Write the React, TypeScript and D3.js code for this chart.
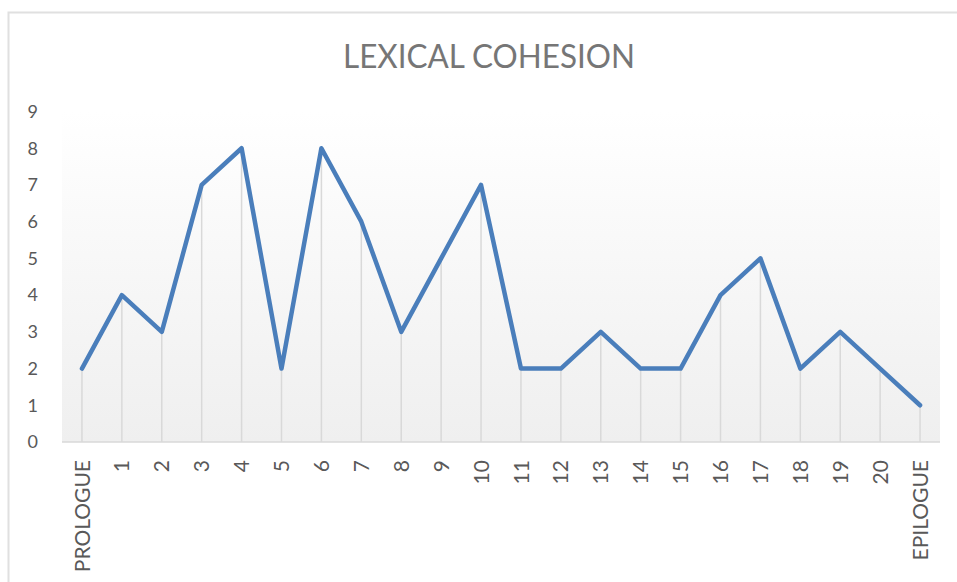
import * as d3 from 'd3';
import { useRef, useEffect } from 'react';

// --- data ---
const chapters = [
  'PROLOGUE', '1', '2', '3', '4', '5', '6', '7', '8', '9', '10',
  '11', '12', '13', '14', '15', '16', '17', '18', '19', '20', 'EPILOGUE',
];
const cohesion = [2, 4, 3, 7, 8, 2, 8, 6, 3, 5, 7, 2, 2, 3, 2, 2, 4, 5, 2, 3, 2, 1];
const yTicks = [0, 1, 2, 3, 4, 5, 6, 7, 8, 9];
const chartTitle = 'LEXICAL COHESION';

export default function App() {
  const ref = useRef<SVGSVGElement>(null);

  useEffect(() => {
    const width = 957;
    const height = 582;
    const plot = { left: 62, right: 940, top: 111.5, bottom: 442 };
    const font = "Lato, 'Open Sans', sans-serif";

    const x = d3.scalePoint<string>()
      .domain(chapters)
      .range([plot.left, plot.right])
      .padding(0.5);

    const y = d3.scaleLinear()
      .domain([0, 9])
      .range([plot.bottom, plot.top]);

    const svg = d3.select(ref.current)
      .attr('width', width)
      .attr('height', height)
      .attr('viewBox', `0 0 ${width} ${height}`)
      .style('position', 'absolute')
      .style('left', '0px')
      .style('top', '0px')
      .style('font-family', font);

    svg.selectAll('*').remove();

    // background + chart frame
    svg.append('rect')
      .attr('width', width).attr('height', height).attr('fill', '#ffffff');
    svg.append('rect')
      .attr('x', 8.5).attr('y', 12.5)
      .attr('width', width + 20).attr('height', height + 20)
      .attr('fill', 'none')
      .attr('stroke', '#e0e0e0')
      .attr('stroke-width', 2);

    // plot area gradient
    const grad = svg.append('defs').append('linearGradient')
      .attr('id', 'plotFill')
      .attr('x1', 0).attr('y1', 0).attr('x2', 0).attr('y2', 1);
    grad.append('stop').attr('offset', '0%').attr('stop-color', '#ffffff');
    grad.append('stop').attr('offset', '100%').attr('stop-color', '#efefef');

    svg.append('rect')
      .attr('x', plot.left).attr('y', plot.top)
      .attr('width', plot.right - plot.left)
      .attr('height', plot.bottom - plot.top)
      .attr('fill', 'url(#plotFill)');

    // title
    svg.append('text')
      .attr('x', 489)
      .attr('y', 68)
      .attr('text-anchor', 'middle')
      .attr('fill', '#767676')
      .attr('font-size', 32)
      .attr('textLength', 292)
      .attr('lengthAdjust', 'spacingAndGlyphs')
      .text(chartTitle);

    // drop lines
    svg.selectAll('line.drop')
      .data(cohesion)
      .join('line')
      .attr('class', 'drop')
      .attr('x1', (_, i) => x(chapters[i])!)
      .attr('x2', (_, i) => x(chapters[i])!)
      .attr('y1', d => y(d))
      .attr('y2', y(0))
      .attr('stroke', '#d9d9d9')
      .attr('stroke-width', 1.5);

    // x axis line
    svg.append('line')
      .attr('x1', plot.left).attr('x2', plot.right)
      .attr('y1', y(0)).attr('y2', y(0))
      .attr('stroke', '#d9d9d9')
      .attr('stroke-width', 1.5);

    // series line
    const line = d3.line<number>()
      .x((_, i) => x(chapters[i])!)
      .y(d => y(d));

    svg.append('path')
      .datum(cohesion)
      .attr('d', line)
      .attr('fill', 'none')
      .attr('stroke', '#4a7ebb')
      .attr('stroke-width', 4.5)
      .attr('stroke-linejoin', 'round')
      .attr('stroke-linecap', 'round');

    // y tick labels
    svg.selectAll('text.ytick')
      .data(yTicks)
      .join('text')
      .attr('class', 'ytick')
      .attr('x', 38)
      .attr('y', d => y(d))
      .attr('dy', '0.35em')
      .attr('text-anchor', 'end')
      .attr('fill', '#595959')
      .attr('font-size', 18)
      .text(d => d);

    // x tick labels (rotated)
    svg.selectAll('text.xtick')
      .data(chapters)
      .join('text')
      .attr('class', 'xtick')
      .attr('transform', d => `translate(${x(d)!},460) rotate(-90)`)
      .attr('dy', '0.36em')
      .attr('text-anchor', 'end')
      .attr('fill', '#595959')
      .attr('font-size', 21)
      .text(d => d);
  }, []);

  return <svg ref={ref}></svg>;
}
